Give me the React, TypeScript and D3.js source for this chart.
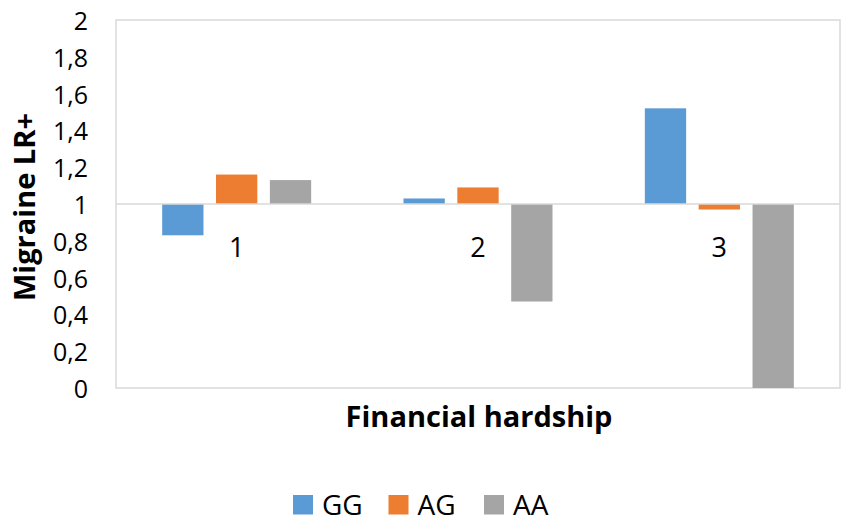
import * as d3 from "d3";

const categories = ["1", "2", "3"];
const seriesNames = ["GG", "AG", "AA"];
const seriesColors = ["#5B9BD5", "#ED7D31", "#A5A5A5"];
const ggValues = [0.83, 1.03, 1.52];
const agValues = [1.16, 1.09, 0.97];
const aaValues = [1.13, 0.47, 0];
const yTicks = [0, 0.2, 0.4, 0.6, 0.8, 1, 1.2, 1.4, 1.6, 1.8, 2];

const WIDTH = 850;
const HEIGHT = 527;
const FONT = "'Open Sans', 'Noto Sans', sans-serif";

const App = () => {
  const left = 116;
  const right = 840;
  const top = 20;
  const bottom = 388;
  const groupWidth = 149;

  const values = [ggValues, agValues, aaValues];

  const xScale = d3.scaleBand().domain(categories).range([left, right]);
  const inner = d3
    .scaleBand()
    .domain(seriesNames)
    .range([0, groupWidth])
    .paddingInner(0.233)
    .paddingOuter(0);
  const groupOffset = (xScale.bandwidth() - groupWidth) / 2;

  const yScale = d3.scaleLinear().domain([0, 2]).range([bottom, top]);
  const base = yScale(1);

  const fmt = (v: number) => String(Math.round(v * 10) / 10).replace(".", ",");

  return (
    <svg
      width={WIDTH}
      height={HEIGHT}
      style={{ position: "absolute", left: 0, top: 0, background: "#fff" }}
      fontFamily={FONT}
    >
      <rect
        x={left}
        y={top}
        width={right - left}
        height={bottom - top}
        fill="none"
        stroke="#D9D9D9"
        strokeWidth={1.5}
      />
      {yTicks.map((t) => (
        <text
          key={t}
          x={88}
          y={yScale(t)}
          textAnchor="end"
          dominantBaseline="central"
          fontSize={25}
          fill="#000"
        >
          {fmt(t)}
        </text>
      ))}
      {categories.map((c, ci) =>
        seriesNames.map((s, si) => {
          const v = values[si][ci];
          const x = (xScale(c) ?? 0) + groupOffset + (inner(s) ?? 0);
          const y = yScale(Math.max(v, 1));
          const h = Math.abs(yScale(v) - base);
          return (
            <rect
              key={c + s}
              x={x}
              y={y}
              width={inner.bandwidth()}
              height={h}
              fill={seriesColors[si]}
            />
          );
        })
      )}
      <line x1={left} x2={right} y1={base} y2={base} stroke="#D9D9D9" strokeWidth={1.5} />
      {categories.map((c) => (
        <text
          key={c}
          x={(xScale(c) ?? 0) + xScale.bandwidth() / 2}
          y={257}
          textAnchor="middle"
          fontSize={27}
        >
          {c}
        </text>
      ))}
      <text
        transform={`translate(35, 207) rotate(-90)`}
        textAnchor="middle"
        fontSize={29}
        fontWeight="bold"
      >
        Migraine LR+
      </text>
      <text
        x={(left + right) / 2 + 1}
        y={427}
        textAnchor="middle"
        fontSize={29}
        fontWeight="bold"
      >
        Financial hardship
      </text>
      {seriesNames.map((s, i) => {
        const lx = 293 + i * 95.5;
        return (
          <g key={s}>
            <rect x={lx} y={495} width={20} height={19.5} fill={seriesColors[i]} />
            <text x={lx + 29} y={515} fontSize={28}>
              {s}
            </text>
          </g>
        );
      })}
    </svg>
  );
};

export default App;
